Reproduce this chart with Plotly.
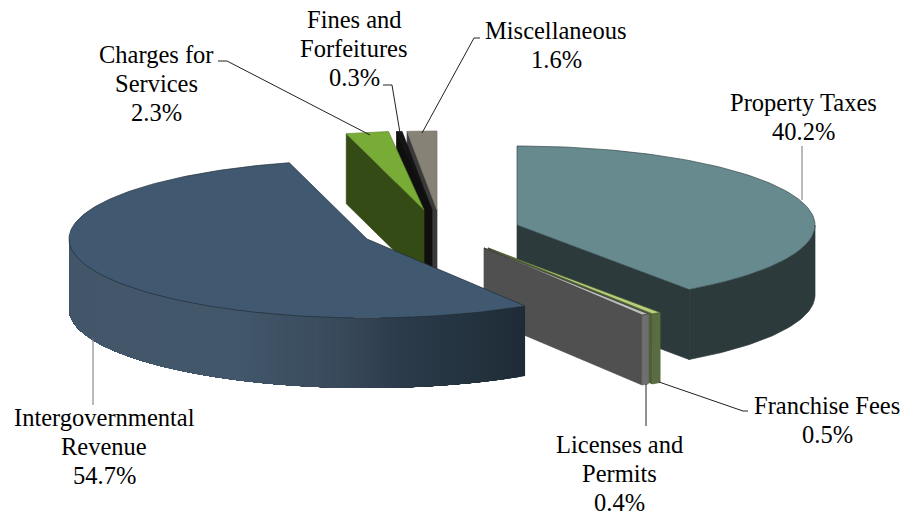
import math
import plotly.graph_objects as go

categories = ["Property Taxes", "Franchise Fees", "Licenses and Permits", "Intergovernmental Revenue",
              "Charges for Services", "Fines and Forfeitures", "Miscellaneous"]
shares = [40.2, 0.5, 0.4, 54.7, 2.3, 0.3, 1.6]
label_lines = [["Property Taxes"], ["Franchise Fees"], ["Licenses and", "Permits"],
               ["Intergovernmental", "Revenue"], ["Charges for", "Services"],
               ["Fines and", "Forfeitures"], ["Miscellaneous"]]

# projection of the tilted 3-D pie
RX, RY, DEPTH = 298, 79, 70
centres = {"Property Taxes": (517, 225), "Franchise Fees": (488, 248), "Licenses and Permits": (484, 248),
           "Intergovernmental Revenue": (367, 239), "Charges for Services": (424, 210),
           "Fines and Forfeitures": (432, 210), "Miscellaneous": (437, 210)}
# top colour, wall colour, rim colour, edge colour
styles = {"Property Taxes": ("#678a8e", "#2c3a3c", "#2c3a3c", "#34474a"),
          "Franchise Fees": ("#b7cf7b", "#4f5f38", "#5a6c42", "#46552f"),
          "Licenses and Permits": ("#bcbcbc", "#505050", "#6f6f6f", "#3a3a3a"),
          "Intergovernmental Revenue": ("#415970", "#1f2c37", None, "#1f2c37"),
          "Charges for Services": ("#78ac36", "#344b16", "#344b16", "#5f8a2a"),
          "Fines and Forfeitures": ("#141414", "#0f0f0f", "#0f0f0f", "#111111"),
          "Miscellaneous": ("#878276", "#3a3a3a", "#3a3a3a", "#777367")}
draw_order = ["Miscellaneous", "Fines and Forfeitures", "Charges for Services", "Property Taxes",
              "Franchise Fees", "Licenses and Permits", "Intergovernmental Revenue"]
gradient = [(69, "#43566a"), (230, "#43586c"), (340, "#394a5b"), (400, "#2c3c4b"), (525, "#1f2c37")]

# label anchors: x centre, first-line y
label_pos = {"Property Taxes": (803, 102), "Franchise Fees": (827, 405), "Licenses and Permits": (619, 444),
             "Intergovernmental Revenue": (104, 417), "Charges for Services": (156, 54),
             "Fines and Forfeitures": (354, 19), "Miscellaneous": (556, 30)}
LINE_STEP = 29.4
leaders = [([802, 802], [146, 200], "#777777"),
           ([93, 93], [338, 405], "#777777"),
           ([646, 646], [384, 426], "#222222"),
           ([659, 743, 748], [382, 411, 411], "#222222"),
           ([218, 227, 370], [61, 61, 135], "#222222"),
           ([383, 392, 400], [85, 85, 133], "#222222"),
           ([480, 474, 422], [38, 38, 133], "#222222")]


def hex2rgb(c):
    return tuple(int(c[i:i + 2], 16) for i in (1, 3, 5))


def grad_colour(x):
    for (x0, c0), (x1, c1) in zip(gradient, gradient[1:]):
        if x <= x1:
            t = max(0, (x - x0) / (x1 - x0))
            a, b = hex2rgb(c0), hex2rgb(c1)
            return "rgb(%d,%d,%d)" % tuple(a[i] + (b[i] - a[i]) * t for i in range(3))
    return gradient[-1][1]


def rim(c, deg):
    r = math.radians(deg)
    return c[0] + RX * math.sin(r), c[1] - RY * math.cos(r)


def band(c, d0, d1):
    """Outline of the rim wall between two angles."""
    n = max(2, int(abs(d1 - d0) / 1.0))
    pts = [rim(c, d0 + (d1 - d0) * i / n) for i in range(n + 1)]
    xs = [p[0] for p in pts] + [p[0] for p in reversed(pts)]
    ys = [p[1] for p in pts] + [p[1] + DEPTH for p in reversed(pts)]
    return xs, ys


fig = go.Figure()


def poly(xs, ys, fill, line=None, width=0.7):
    fig.add_trace(go.Scatter(x=xs + xs[:1], y=ys + ys[:1], mode="lines", fill="toself", fillcolor=fill,
                             line=dict(color=line or fill, width=width), hoverinfo="skip", showlegend=False))


# angular spans from the shares, clockwise from 12 o'clock
spans = {}
acc = 0.0
total = sum(shares)
for name, v in zip(categories, shares):
    spans[name] = (acc, acc + 360 * v / total)
    acc += 360 * v / total

for name in draw_order:
    c = centres[name]
    a0, a1 = spans[name]
    top, wall, rimc, edge = styles[name]
    # radial walls that face the viewer
    for deg, visible in ((a0, math.sin(math.radians(a0)) < 0), (a1, math.sin(math.radians(a1)) > 0)):
        if visible:
            px, py = rim(c, deg)
            poly([c[0], px, px, c[0]], [c[1], py, py + DEPTH, c[1] + DEPTH], wall, wall)
    # outer rim, front half only
    lo, hi = max(a0, 90), min(a1, 270)
    if hi > lo:
        if rimc:
            xs, ys = band(c, lo, hi)
            poly(xs, ys, rimc, rimc)
        else:
            # painted from the far end forward so no seams show between the shades
            n = 150
            for i in range(n):
                d0 = lo + (hi - lo) * i / n
                d1 = lo + (hi - lo) * (i + 1) / n
                col = grad_colour((rim(c, d0)[0] + rim(c, d1)[0]) / 2)
                xs, ys = band(c, d0, hi)
                fig.add_trace(go.Scatter(x=xs + xs[:1], y=ys + ys[:1], mode="none", fill="toself", fillcolor=col,
                                         hoverinfo="skip", showlegend=False))
    # top face
    n = max(2, int((a1 - a0) / 1.0))
    pts = [rim(c, a0 + (a1 - a0) * i / n) for i in range(n + 1)]
    poly([c[0]] + [p[0] for p in pts], [c[1]] + [p[1] for p in pts], top, edge)

for xs, ys, col in leaders:
    fig.add_trace(go.Scatter(x=xs, y=ys, mode="lines", line=dict(color=col, width=1),
                             hoverinfo="skip", showlegend=False))

for name, v, lines in zip(categories, shares, label_lines):
    x, y = label_pos[name]
    for i, txt in enumerate(lines + [f"{v}%"]):
        fig.add_annotation(x=x, y=y + i * LINE_STEP, text=txt, showarrow=False, xref="x", yref="y",
                           xanchor="center", yanchor="middle",
                           font=dict(family="Liberation Serif", size=24.5, color="#000000"))

fig.update_layout(width=906, height=516, margin=dict(l=0, r=0, t=0, b=0), paper_bgcolor="white",
                  plot_bgcolor="white", showlegend=False,
                  xaxis=dict(range=[0, 906], visible=False, fixedrange=True),
                  yaxis=dict(range=[516, 0], visible=False, fixedrange=True))
fig.write_html("out.html", post_script="document.body.style.margin='0';",
               config={"displayModeBar": False})
